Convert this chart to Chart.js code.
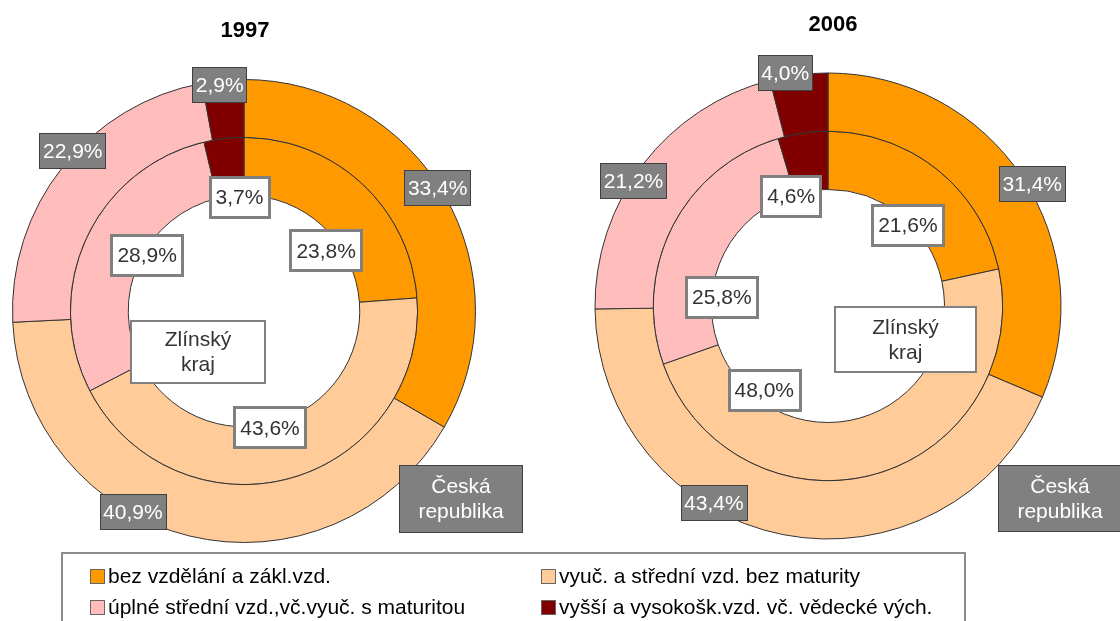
<!DOCTYPE html>
<html><head><meta charset="utf-8">
<script src="https://cdn.jsdelivr.net/npm/chart.js@4.4.1/dist/chart.umd.min.js"></script>
<style>
html,body{margin:0;padding:0;background:#fff;width:1120px;height:621px;overflow:hidden;font-family:"Liberation Sans",Arial,sans-serif;}
canvas{position:absolute;top:0;}
#c1{left:0;} #c2{left:560px;}
.title{position:absolute;width:200px;text-align:center;font-weight:bold;font-size:22px;line-height:22px;color:#000;}
#legend{position:absolute;left:61px;top:552px;width:905px;height:100px;border:2px solid #8c8c8c;box-sizing:border-box;}
.li{position:absolute;font-size:21px;line-height:24px;color:#000;white-space:nowrap;}
.sw{position:absolute;width:13px;height:13px;border:1px solid #666;}
</style></head>
<body>
<canvas id="c1" width="560" height="621"></canvas>
<canvas id="c2" width="560" height="621"></canvas>
<div class="title" id="t1" style="left:145px;top:19px;"></div>
<div class="title" id="t2" style="left:733px;top:13px;"></div>
<div id="legend"></div>
<script>
// ---- data ----
const categories = ['bez vzdělání a zákl.vzd.', 'vyuč. a střední vzd. bez maturity', 'úplné střední vzd.,vč.vyuč. s maturitou', 'vyšší a vysokošk.vzd. vč. vědecké vých.'];
const years = ['1997', '2006'];
const seriesNames = [['Česká', 'republika'], ['Zlínský', 'kraj']];
const cr1997 = [33.4, 40.9, 22.9, 2.9];
const zlin1997 = [23.8, 43.6, 28.9, 3.7];
const cr2006 = [31.4, 43.4, 21.2, 4.0];
const zlin2006 = [21.6, 48.0, 25.8, 4.6];

// ---- styles ----
function makePinkPattern() {
  const c = document.createElement('canvas'); c.width = 2; c.height = 2;
  const x = c.getContext('2d');
  x.fillStyle = '#ffc6c6'; x.fillRect(0, 0, 2, 2);
  x.fillStyle = '#ffb3b3'; x.fillRect(0, 0, 1, 1); x.fillRect(1, 1, 1, 1);
  return c;
}
const pinkCanvas = makePinkPattern();
const pinkPattern = document.createElement('canvas').getContext('2d').createPattern(pinkCanvas, 'repeat');
const colors = ['#ff9900', '#ffcc99', pinkPattern, '#800000'];
const swatchCss = ['#ff9900', '#ffcc99', 'url(' + pinkCanvas.toDataURL() + ')', '#800000'];

// label placement tweaks: [angle shift deg, radius shift px] per dataset/segment
const nudges1997 = [[[-2.5, -2], [15.3, -2], [4.7, 3], [-0.9, -4]], [[11, -14], [3.3, 4], [5.3, -4], [4.4, -2]]];
const nudges2006 = [[[2.6, 5], [18.9, -5], [-4.8, -2], [-3.2, 4]], [[5.9, -3], [53, -11], [-22.5, -10], [-10.3, -1]]];
const names1997 = [{dx: 217, dy: 188, w: 124, h: 68}, {dx: -46, dy: 41, w: 134, h: 62}];
const names2006 = [{dx: 232, dy: 192.5, w: 124, h: 67}, {dx: 77.5, dy: 33.5, w: 141, h: 65}];

const FONT = '21px "Liberation Sans", Arial, sans-serif';
const outerStyle = {fill: '#808080', stroke: '#404040', lw: 1, color: '#ffffff', padX: 3.5, h: 36};
const innerStyle = {fill: '#ffffff', stroke: '#808080', lw: 3, color: '#333333', padX: 6, h: 41};

function fmt(v) { return v.toFixed(1).replace('.', ',') + '%'; }

function drawBox(ctx, cx, cy, lines, st, w, h) {
  ctx.save();
  ctx.font = FONT;
  let tw = 0;
  lines.forEach(l => tw = Math.max(tw, ctx.measureText(l).width));
  const bw = w || (tw + 2 * st.padX);
  const bh = h || st.h;
  const x = Math.round(cx - bw / 2), y = Math.round(cy - bh / 2);
  ctx.fillStyle = st.fill;
  ctx.fillRect(x, y, bw, bh);
  ctx.lineWidth = st.lw;
  ctx.strokeStyle = st.stroke;
  const o = st.lw % 2 ? 0.5 : 0;
  ctx.strokeRect(x + o, y + o, Math.round(bw) - 2 * o, Math.round(bh) - 2 * o);
  ctx.fillStyle = st.color;
  ctx.textAlign = 'center';
  ctx.textBaseline = 'middle';
  const lh = 25;
  lines.forEach((l, i) => {
    ctx.fillText(l, cx, cy + (i - (lines.length - 1) / 2) * lh + 1);
  });
  ctx.restore();
}

const boxPlugin = {
  id: 'boxes',
  afterDraw(chart, args, opts) {
    const ctx = chart.ctx;
    let cx0 = 0, cy0 = 0;
    chart.data.datasets.forEach((ds, di) => {
      const meta = chart.getDatasetMeta(di);
      meta.data.forEach((arc, i) => {
        const p = arc.getProps(['x', 'y', 'startAngle', 'endAngle', 'innerRadius', 'outerRadius'], true);
        cx0 = p.x; cy0 = p.y;
        const nd = opts.nudges[di][i];
        const a = (p.startAngle + p.endAngle) / 2 + nd[0] * Math.PI / 180;
        const r = (di === 0 ? p.outerRadius : p.innerRadius) + nd[1];
        drawBox(ctx, p.x + r * Math.cos(a), p.y + r * Math.sin(a), [fmt(ds.data[i])], di === 0 ? outerStyle : innerStyle);
      });
    });
    opts.names.forEach((nb, di) => {
      drawBox(ctx, cx0 + nb.dx, cy0 + nb.dy, seriesNames[di], di === 0 ? outerStyle : Object.assign({}, innerStyle, {lw: 2}), nb.w, nb.h);
    });
  }
};

function makeChart(id, outerData, innerData, padding, nudges, names) {
  return new Chart(document.getElementById(id), {
    type: 'doughnut',
    data: {
      labels: categories,
      datasets: [
        {label: seriesNames[0].join(' '), data: outerData, backgroundColor: colors, borderColor: '#333333', borderWidth: 1},
        {label: seriesNames[1].join(' '), data: innerData, backgroundColor: colors, borderColor: '#333333', borderWidth: 1}
      ]
    },
    options: {
      responsive: false,
      animation: false,
      devicePixelRatio: 1,
      cutout: '50%',
      layout: {padding: padding},
      plugins: {
        legend: {display: false},
        tooltip: {enabled: false},
        title: {display: false},
        boxes: {nudges: nudges, names: names}
      }
    },
    plugins: [boxPlugin]
  });
}

makeChart('c1', cr1997, zlin1997, {left: 12, top: 79, right: 84, bottom: 78}, nudges1997, names1997);
makeChart('c2', cr2006, zlin2006, {left: 34.5, top: 72.5, right: 58.5, bottom: 81.5}, nudges2006, names2006);

document.getElementById('t1').textContent = years[0];
document.getElementById('t2').textContent = years[1];

// legend
const leg = document.getElementById('legend');
const colX = [27, 478];
const rowY = [14, 45];
categories.forEach((c, i) => {
  const col = i % 2, row = Math.floor(i / 2);
  const sw = document.createElement('div');
  sw.className = 'sw';
  sw.style.left = colX[col] + 'px';
  sw.style.top = (rowY[row] + 1) + 'px';
  sw.style.background = swatchCss[i];
  leg.appendChild(sw);
  const t = document.createElement('div');
  t.className = 'li';
  t.style.left = (colX[col] + 18) + 'px';
  t.style.top = (rowY[row] - 4) + 'px';
  t.textContent = c;
  leg.appendChild(t);
});
</script>
</body></html>
